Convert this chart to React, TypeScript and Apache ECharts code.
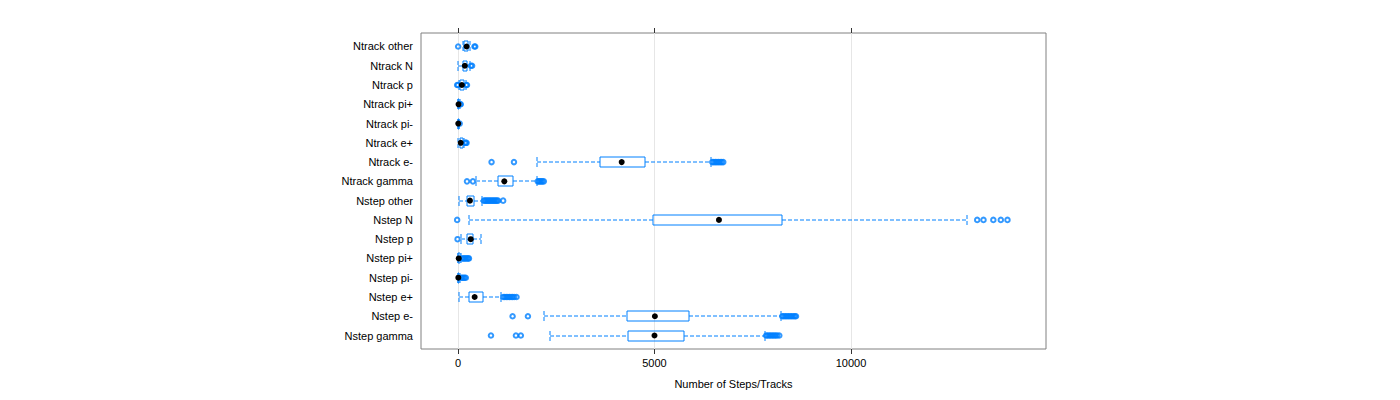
import React, { useEffect, useRef } from "react";
import * as echarts from "echarts";

const categories = [
  "Ntrack other", "Ntrack N", "Ntrack p", "Ntrack pi+", "Ntrack pi-", "Ntrack e+", "Ntrack e-", "Ntrack gamma",
  "Nstep other", "Nstep N", "Nstep p", "Nstep pi+", "Nstep pi-", "Nstep e+", "Nstep e-", "Nstep gamma",
];
const whiskerLow = [130, 8, 20, 0, 0, 10, 2000, 470, 25, 270, 70, 0, 0, 25, 2200, 2350];
const q1 = [160, 135, 60, 5, 3, 40, 3615, 1010, 237, 4970, 237, 5, 3, 272, 4290, 4330];
const medians = [220, 175, 100, 15, 8, 70, 4165, 1180, 305, 6640, 325, 20, 10, 425, 5010, 5000];
const q3 = [262, 237, 150, 30, 20, 120, 4760, 1410, 407, 8250, 390, 50, 30, 628, 5885, 5745];
const whiskerHigh = [300, 300, 200, 50, 35, 160, 6440, 2000, 620, 12960, 580, 90, 60, 1100, 8220, 7800];
const outliers: number[][] = [
  [5, 420, 440],
  [330, 360],
  [-20, 0, 210, 230],
  [60, 70],
  [45],
  [180, 200, 220],
  [855, 1425, 6470, 6510, 6550, 6590, 6630, 6670, 6710, 6750],
  [230, 380, 2030, 2060, 2090, 2120, 2150, 2185],
  [660, 690, 720, 750, 780, 810, 840, 870, 900, 930, 960, 990, 1020, 1150],
  [-20, 13210, 13370, 13620, 13810, 13980],
  [-10],
  [110, 140, 170, 200, 230, 260, 280],
  [80, 110, 140, 170, 200],
  [1150, 1190, 1230, 1270, 1310, 1350, 1390, 1430, 1490],
  [1390, 1780, 8250, 8290, 8330, 8370, 8410, 8450, 8490, 8530, 8570, 8600],
  [840, 1475, 1600, 7840, 7880, 7920, 7960, 8000, 8040, 8080, 8120, 8175],
];
const xTicks = [0, 5000, 10000];
const xMin = -940;
const xMax = 14960;
const yTickPositions = categories.map((_, i) => i + 1);

export default function App() {
  const ref = useRef<HTMLDivElement>(null);
  useEffect(() => {
    const chart = echarts.init(ref.current!, null, { renderer: "svg" });
    const blue = "#0080ff";
    const font = "Liberation Sans, Arial, Helvetica, sans-serif";
    const boxData = categories.map((_, i) => [i + 1, whiskerLow[i], q1[i], medians[i], q3[i], whiskerHigh[i]]);
    const outlierData: number[][] = [];
    outliers.forEach((arr, i) => arr.forEach((v) => outlierData.push([v, i + 1])));
    const medianData = medians.map((m, i) => [m, i + 1]);
    const gridData = xTicks.map((v) => [v, 1]);
    const px = (v: number) => Math.round(v) + 0.5;

    chart.setOption({
      animation: false,
      grid: {
        left: 421, right: 354, top: 33, bottom: 51,
        show: true, borderColor: "#808080", borderWidth: 1, backgroundColor: "transparent",
      },
      xAxis: [
        {
          type: "value", min: xMin, max: xMax, position: "bottom",
          axisLine: { show: false },
          axisTick: { show: true, customValues: xTicks, length: 5, lineStyle: { color: "#333" } },
          axisLabel: {
            customValues: xTicks, fontSize: 11, color: "#000", fontFamily: font, margin: 8,
            formatter: (v: number) => String(v),
          },
          splitLine: { show: false },
          name: "Number of Steps/Tracks", nameLocation: "middle", nameGap: 29,
          nameTextStyle: { fontSize: 11, color: "#000", fontFamily: font },
        },
        {
          type: "value", min: xMin, max: xMax, position: "top",
          axisLine: { show: false },
          axisTick: { show: true, customValues: xTicks, length: 5, lineStyle: { color: "#333" } },
          axisLabel: { show: false },
          splitLine: { show: false },
        },
      ],
      yAxis: {
        type: "value", min: 0.3, max: 16.7, inverse: true,
        axisLine: { show: false }, axisTick: { show: false }, splitLine: { show: false },
        axisLabel: {
          customValues: yTickPositions,
          formatter: (v: number) => categories[Math.round(v) - 1] ?? "",
          fontSize: 11, color: "#000", fontFamily: font, margin: 8,
        },
      },
      series: [
        {
          type: "custom", data: gridData, encode: { x: 0, y: 1 }, z: 1, silent: true,
          itemStyle: { color: "#e6e6e6" },
          renderItem: (params: any, api: any) => {
            const x = px(api.coord([api.value(0), 1])[0]);
            const cs = params.coordSys;
            return {
              type: "line",
              shape: { x1: x, y1: cs.y, x2: x, y2: cs.y + cs.height },
              style: { stroke: "#e6e6e6", lineWidth: 1 },
            };
          },
        },
        {
          type: "custom", data: boxData, encode: { x: [1, 2, 3, 4, 5], y: 0 }, z: 2, silent: true,
          itemStyle: { color: blue, borderColor: blue },
          renderItem: (params: any, api: any) => {
            const idx = api.value(0);
            const y = Math.round(api.coord([0, idx])[1]);
            const h = api.size([0, 1])[1] * 0.49;
            const xl = Math.round(api.coord([api.value(1), idx])[0]);
            const x1 = Math.round(api.coord([api.value(2), idx])[0]);
            const x3 = Math.round(api.coord([api.value(4), idx])[0]);
            const xh = Math.round(api.coord([api.value(5), idx])[0]);
            const dash = { stroke: blue, lineWidth: 1, lineDash: [4, 2] };
            const top = Math.round(y - h / 2);
            const bot = Math.round(y + h / 2);
            return {
              type: "group",
              children: [
                { type: "line", shape: { x1: xl, y1: y, x2: x1, y2: y }, style: dash },
                { type: "line", shape: { x1: x3, y1: y, x2: xh, y2: y }, style: dash },
                { type: "line", shape: { x1: xl, y1: top, x2: xl, y2: bot }, style: dash },
                { type: "line", shape: { x1: xh, y1: top, x2: xh, y2: bot }, style: dash },
                {
                  type: "polyline",
                  shape: {
                    points: [[x1, top], [x3, top], [x3, bot], [x1, bot], [x1, top]],
                  },
                  style: { stroke: blue, lineWidth: 1, fill: null },
                },
              ],
            };
          },
        },
        {
          type: "scatter", data: outlierData, symbol: "circle", symbolSize: 4.5, z: 3, silent: true,
          itemStyle: { color: "transparent", borderColor: blue, borderWidth: 2 },
        },
        {
          type: "scatter", data: medianData, symbol: "circle", symbolSize: 6, z: 4, silent: true,
          itemStyle: { color: "#000", opacity: 1 },
        },
      ],
    });
    return () => chart.dispose();
  }, []);
  return (
    <div
      ref={ref}
      style={{ position: "absolute", left: 0, top: 0, width: 1400, height: 400, background: "#fff" }}
    />
  );
}
